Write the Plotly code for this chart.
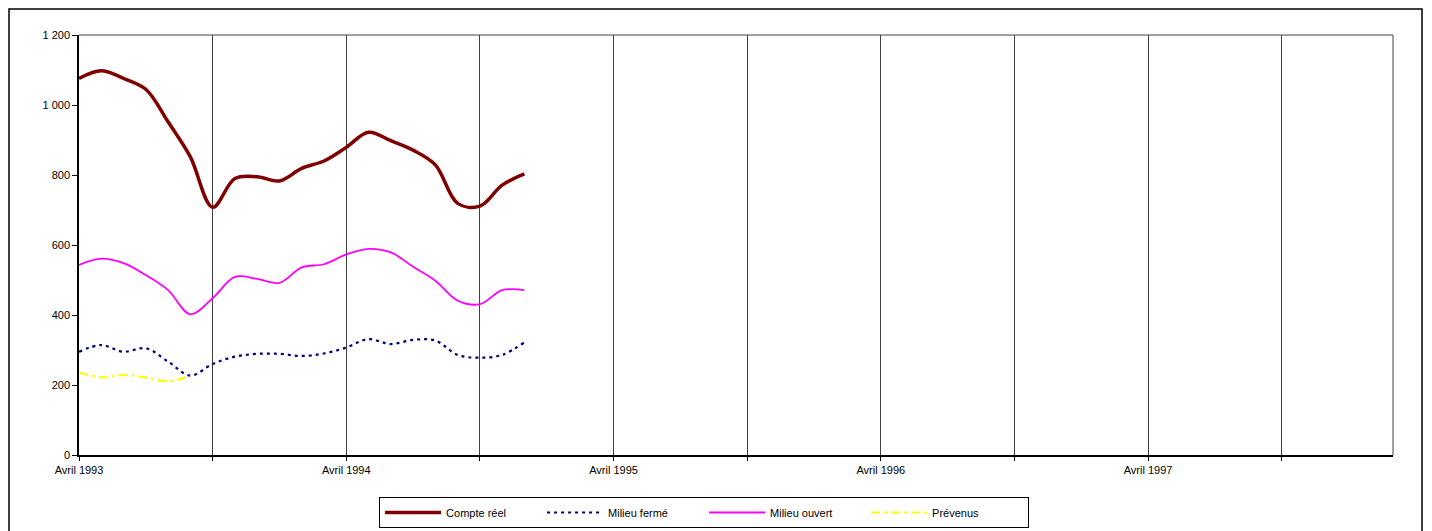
import plotly.graph_objects as go

# ---- data ----
mois = ["Avril", "Mai", "Juin", "Juillet", "Août", "Septembre", "Octobre",
        "Novembre", "Décembre", "Janvier", "Février", "Mars"]
categories = []
for k in range(60):
    m = k % 12
    year = 1993 + k // 12 + (1 if m >= 9 else 0)
    categories.append(f"{mois[m]} {year}")

compte_reel = [1076, 1098, 1076, 1045, 952, 852, 708, 790, 795, 783, 819,
               840, 879, 922, 898, 871, 829, 719, 711, 771, 803]
milieu_ferme = [295, 314, 295, 305, 267, 227, 260, 281, 289, 289, 283,
                290, 307, 331, 317, 329, 327, 286, 278, 286, 322]
milieu_ouvert = [543, 561, 548, 514, 471, 402, 448, 509, 503, 492, 536,
                 545, 573, 589, 579, 538, 498, 441, 431, 471, 471]
prevenus = [236, 222, 229, 221, 211, 226]

y_tickvals = [0, 200, 400, 600, 800, 1000, 1200]
y_ticktext = ["0", "200", "400", "600", "800", "1 000", "1 200"]
x_tick_idx = list(range(0, 60, 6))
x_ticktext = ["Avril 1993", "", "Avril 1994", "", "Avril 1995", "",
              "Avril 1996", "", "Avril 1997", ""]

FONT = "Liberation Sans, Arial, sans-serif"

fig = go.Figure()
fig.add_trace(go.Scatter(
    x=categories[:len(compte_reel)], y=compte_reel, name="Compte réel",
    mode="lines", line=dict(color="#800000", width=3.5, shape="spline", smoothing=1.0)))
fig.add_trace(go.Scatter(
    x=categories[:len(milieu_ferme)], y=milieu_ferme, name="Milieu fermé",
    mode="lines", line=dict(color="#000080", width=2.2, dash="3px,4px", shape="spline", smoothing=1.0)))
fig.add_trace(go.Scatter(
    x=categories[:len(milieu_ouvert)], y=milieu_ouvert, name="Milieu ouvert",
    mode="lines", line=dict(color="#FF00FF", width=1.8, shape="spline", smoothing=1.0)))
fig.add_trace(go.Scatter(
    x=categories[:len(prevenus)], y=prevenus, name="Prévenus",
    mode="lines", line=dict(color="#FFFF00", width=2.2, dash="9px,4px,3px,4px", shape="spline", smoothing=1.0)))

fig.update_layout(
    width=1432, height=531,
    margin=dict(l=71, r=47, t=27, b=84, autoexpand=False),
    paper_bgcolor="white", plot_bgcolor="white",
    font=dict(family=FONT, size=11, color="black"),
    showlegend=True,
    legend=dict(orientation="h", x=0.4757, xanchor="center", y=-0.1, yanchor="top",
                bordercolor="black", borderwidth=1, bgcolor="white",
                font=dict(family=FONT, size=11), entrywidth=91, itemwidth=56,
                traceorder="normal"),
    xaxis=dict(type="category", categoryorder="array", categoryarray=categories,
               range=[0, 59], tickvals=[categories[i] for i in x_tick_idx],
               ticktext=x_ticktext, showgrid=True, gridcolor="#404040", gridwidth=1,
               showline=True, linecolor="black", linewidth=1.5,
               ticks="outside", ticklen=4, tickcolor="black", tickangle=0,
               zeroline=False, tickfont=dict(size=11)),
    yaxis=dict(range=[0, 1200], tickvals=y_tickvals, ticktext=y_ticktext,
               showgrid=False, zeroline=False, showline=True, linecolor="black",
               linewidth=1.5, ticks="outside", ticklen=5, tickcolor="black",
               tickfont=dict(size=11)),
)

# plot-area frame (top and right, gray)
fig.add_shape(type="line", xref="paper", yref="paper", x0=0, x1=1, y0=1, y1=1,
              line=dict(color="#808080", width=1.5), layer="below")
fig.add_shape(type="line", xref="paper", yref="paper", x0=1, x1=1, y0=0, y1=1,
              line=dict(color="#808080", width=1.5), layer="below")
# outer chart border (kept inside the figure canvas)
fig.add_shape(type="rect", xref="paper", yref="paper",
              x0=-70 / 1314, x1=(1422 - 79) / 1314,
              y0=(455 - 545) / 420, y1=1 + 26 / 420,
              line=dict(color="black", width=1.5), fillcolor="rgba(0,0,0,0)", layer="below")

fig.write_html("out.html")
